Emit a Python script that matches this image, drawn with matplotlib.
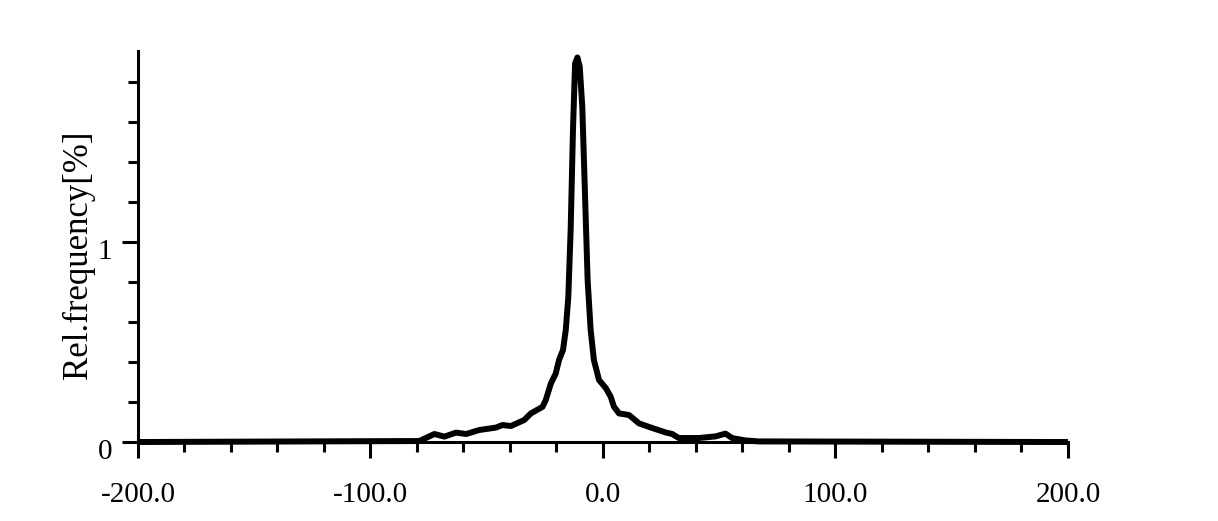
import numpy as np
import matplotlib.pyplot as plt
import matplotlib.transforms as mtransforms
from matplotlib.ticker import MultipleLocator, FormatStrFormatter

plt.rcParams['font.family'] = ['Liberation Serif', 'DejaVu Serif']
plt.rcParams['axes.unicode_minus'] = False

# values
x_vals = [-200, -79, -72.5, -68.2, -63.2, -58.9, -53.2, -46.1, -43.2, -39.6,
          -33.9, -31.0, -26.0, -24.6, -22.4, -20.3, -18.9, -17.2, -16.0, -14.9,
          -13.9, -12.9, -12.0, -11.0, -10.0, -8.9, -7.7, -6.6, -5.3, -3.9,
          -1.7, 1.2, 3.3, 4.7, 6.9, 11.2, 15.5, 21.2, 26.9, 29.8,
          32.6, 41.2, 48.4, 52.7, 55.5, 61.2, 67, 200]
freq = [0, 0.005, 0.04, 0.027, 0.047, 0.04, 0.06, 0.072, 0.085, 0.08,
        0.11, 0.143, 0.176, 0.21, 0.293, 0.343, 0.41, 0.46, 0.56, 0.727,
        1.06, 1.56, 1.893, 1.923, 1.877, 1.677, 1.227, 0.81, 0.56, 0.41,
        0.31, 0.27, 0.227, 0.177, 0.143, 0.135, 0.093, 0.07, 0.048, 0.04,
        0.02, 0.02, 0.028, 0.042, 0.02, 0.008, 0.003, 0]

fig = plt.figure(figsize=(12.18, 5.21), dpi=100)
ax = fig.add_axes([0.1133, 0.1516, 0.7635, 0.7504])

ax.plot(x_vals, freq, color='black', linewidth=4.3, solid_joinstyle='round',
        solid_capstyle='butt', clip_on=False, zorder=3)

ax.set_xlim(-200, 200)
ax.set_ylim(0, 1.955)

for side in ['top', 'right']:
    ax.spines[side].set_visible(False)
for side in ['left', 'bottom']:
    ax.spines[side].set_linewidth(2.2)

ax.xaxis.set_major_locator(MultipleLocator(100))
ax.xaxis.set_minor_locator(MultipleLocator(20))
ax.xaxis.set_major_formatter(FormatStrFormatter('%.1f'))
ax.yaxis.set_major_locator(MultipleLocator(1))
ax.yaxis.set_minor_locator(MultipleLocator(0.2))
ax.yaxis.set_major_formatter(FormatStrFormatter('%d'))

ax.tick_params(which='major', length=11.5, width=2.2, labelsize=21)
ax.tick_params(which='minor', length=7, width=2.2)
ax.tick_params(axis='x', which='major', pad=17)
ax.tick_params(axis='y', which='major', pad=7)

# y tick labels sit a little below their ticks
shift = mtransforms.ScaledTranslation(0, -0.07, fig.dpi_scale_trans)
for lab in ax.get_yticklabels():
    lab.set_transform(lab.get_transform() + shift)

ax.set_ylabel('Rel.frequency[%]', fontsize=25)
ax.yaxis.set_label_coords(-0.046, 0.48)

fig.savefig('out.png', dpi=100)
